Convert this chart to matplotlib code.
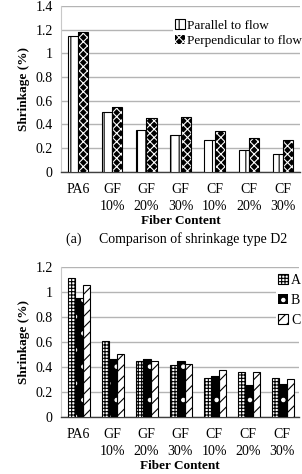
import numpy as np
import matplotlib
matplotlib.use("Agg")
import matplotlib.pyplot as plt

plt.rcParams['font.family'] = ['Liberation Serif', 'DejaVu Serif']
plt.rcParams['hatch.linewidth'] = 0.8

# dados
categorias = ["PA6", "GF\n10%", "GF\n20%", "GF\n30%", "CF\n10%", "CF\n20%", "CF\n30%"]
paralelo = [1.15, 0.50, 0.35, 0.31, 0.27, 0.18, 0.147]
perpendicular = [1.18, 0.545, 0.455, 0.46, 0.345, 0.285, 0.265]
tipo_a = [1.115, 0.61, 0.445, 0.415, 0.307, 0.36, 0.307]
tipo_b = [0.955, 0.465, 0.46, 0.445, 0.325, 0.253, 0.259]
tipo_c = [1.06, 0.50, 0.448, 0.42, 0.373, 0.363, 0.30]
yticks_topo = [0, 0.2, 0.4, 0.6, 0.8, 1.0, 1.2, 1.4]
yticks_baixo = [0, 0.2, 0.4, 0.6, 0.8, 1.0, 1.2]

x = np.arange(len(categorias))
fs = 9.5
fs_ticks = 10


def barra_escura(ax, pos, valores, largura, hatch, label):
    # fundo preto com hachura branca + contorno preto
    ax.bar(pos, valores, largura, color='black', edgecolor='white', hatch=hatch, linewidth=0, zorder=3)
    ax.bar(pos, valores, largura, fill=False, edgecolor='black', linewidth=0.8, zorder=4)
    return plt.Rectangle((0, 0), 1, 1, facecolor='black', edgecolor='white', hatch=hatch, linewidth=0, label=label)


def estilo(ax, ticks):
    ax.set_xlim(-0.5, len(categorias) - 0.5)
    ax.set_ylim(0, ticks[-1])
    ax.set_yticks(ticks)
    ax.set_yticklabels([f"{v:g}" for v in ticks], fontsize=fs_ticks)
    ax.set_xticks(x)
    ax.set_xticklabels(categorias, fontsize=fs_ticks, linespacing=1.45)
    ax.tick_params(axis='y', length=0, pad=6)
    ax.tick_params(axis='x', length=0, pad=8)
    ax.yaxis.grid(True, color='#b4b4b4', linewidth=1.0, zorder=0)
    ax.set_axisbelow(True)
    for s in ['top', 'right']:
        ax.spines[s].set_visible(False)
    ax.spines['left'].set_color('#c8c8c8')
    ax.spines['bottom'].set_color('#404040')
    ax.spines['bottom'].set_linewidth(1.0)
    ax.set_ylabel("Shrinkage (%)", fontsize=fs, fontweight='bold', labelpad=4)
    ax.set_xlabel("Fiber Content", fontsize=fs, fontweight='bold', labelpad=1)


fig = plt.figure(figsize=(3.02, 4.74), dpi=100)

# gráfico de cima
ax1 = fig.add_axes([61 / 302, 1 - 171.5 / 474, 239 / 302, 165.5 / 474])
w = 0.3
ax1.bar(x - w / 2, paralelo, w, color='white', edgecolor='black', hatch='||', linewidth=0.8,
        zorder=3, label="Parallel to flow")
h2 = barra_escura(ax1, x + w / 2, perpendicular, w, 'xxxx', "Perpendicular to flow")
estilo(ax1, yticks_topo)
h1 = ax1.patches[0]
ax1.legend([h1, h2], ["Parallel to flow", "Perpendicular to flow"], loc='upper right',
           bbox_to_anchor=(1.02, 0.935), fontsize=fs, frameon=True, fancybox=False,
           edgecolor='none', framealpha=1, handlelength=0.7, handleheight=0.7,
           handletextpad=0.2, labelspacing=0.25, borderpad=0.2, borderaxespad=0)

fig.text(177 / 302, 1 - 239 / 474, "(a)     Comparison of shrinkage type D2", fontsize=10,
         ha='center', va='center')

# gráfico de baixo
ax2 = fig.add_axes([61 / 302, 1 - 416.7 / 474, 238 / 302, 149.4 / 474])
w = 0.22
ax2.bar(x - w + 0.03, tipo_a, w, color='white', edgecolor='black', hatch='+++++', linewidth=0.8,
        zorder=3)
hb = barra_escura(ax2, x + 0.03, tipo_b, w, '.', "B")
ax2.bar(x + w + 0.03, tipo_c, w, color='white', edgecolor='black', hatch='///', linewidth=0.8,
        zorder=3)
estilo(ax2, yticks_baixo)
ha = ax2.patches[0]
hc = ax2.patches[-1]
ax2.legend([ha, hb, hc], ["A", "B", "C"], loc='upper right', bbox_to_anchor=(1.02, 0.975),
           fontsize=fs_ticks, frameon=True, fancybox=False, edgecolor='none', framealpha=1,
           handlelength=0.7, handleheight=0.7, handletextpad=0.2, labelspacing=0.5,
           borderpad=0.2, borderaxespad=0)

fig.savefig("out.png", dpi=100)
